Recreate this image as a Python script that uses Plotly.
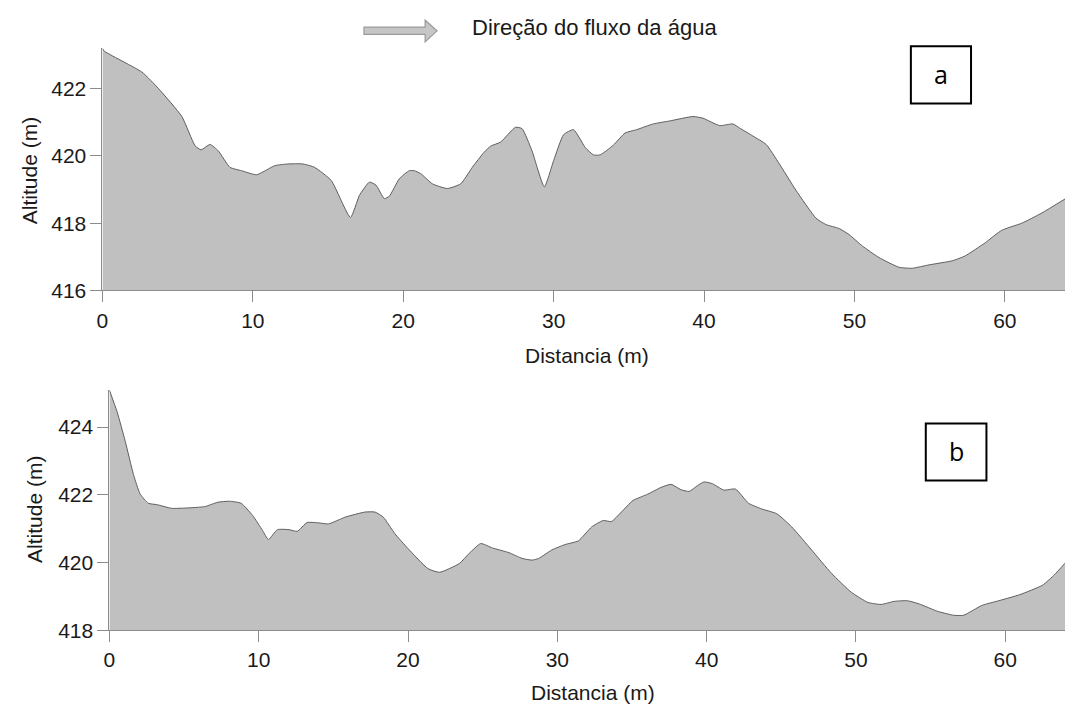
import plotly.graph_objects as go

# Perfil longitudinal (a)
dist_a = [0.0, 0.1, 2.63, 3.73, 5.28, 6.16, 6.56, 7.15, 7.7, 8.48, 9.25, 10.25, 11.46, 12.34,
          13.33, 14.1, 15.21, 16.49, 17.09, 17.75, 18.19, 18.74, 19.07, 19.74, 20.4, 20.73,
          21.17, 21.94, 22.93, 23.82, 24.59, 25.36, 25.81, 26.47, 27.46, 27.9, 28.56, 29.38,
          30.0, 30.66, 31.32, 32.1, 32.65, 33.09, 33.97, 34.75, 35.52, 36.62, 37.73, 39.27,
          39.93, 41.04, 41.92, 42.36, 43.25, 44.13, 45.01, 46.11, 47.44, 48.1, 48.99, 49.65,
          50.53, 51.63, 52.96, 53.84, 54.95, 56.49, 57.37, 58.7, 59.8, 61.13, 62.45, 64.0]
alt_a = [423.2, 423.12, 422.49, 422.0, 421.17, 420.3, 420.18, 420.34, 420.15, 419.66, 419.56,
         419.44, 419.71, 419.76, 419.76, 419.66, 419.27, 418.17, 418.83, 419.22, 419.13,
         418.73, 418.8, 419.32, 419.56, 419.56, 419.47, 419.17, 419.03, 419.17, 419.66,
         420.1, 420.29, 420.41, 420.85, 420.81, 420.15, 419.08, 419.86, 420.63, 420.78,
         420.25, 420.03, 420.03, 420.32, 420.68, 420.78, 420.95, 421.04, 421.17, 421.12,
         420.9, 420.95, 420.83, 420.59, 420.34, 419.76, 418.98, 418.15, 417.96, 417.84,
         417.66, 417.32, 416.98, 416.69, 416.66, 416.76, 416.88, 417.03, 417.42, 417.79,
         418.0, 418.3, 418.72]

# Perfil longitudinal (b)
dist_b = [0.0, 0.51, 1.06, 1.61, 2.06, 2.61, 3.17, 4.17, 5.16, 6.38, 7.26, 8.04, 8.82, 9.59,
          10.25, 10.65, 11.25, 12.03, 12.58, 13.24, 14.02, 14.68, 15.79, 17.12, 17.79, 18.34,
          19.12, 20.0, 21.33, 22.11, 23.44, 24.1, 24.87, 25.65, 26.76, 27.64, 28.31, 28.75,
          29.63, 30.52, 31.41, 32.3, 33.07, 33.62, 34.29, 35.06, 36.06, 36.95, 37.62, 38.28,
          38.83, 39.38, 39.82, 40.38, 41.15, 41.93, 42.81, 43.7, 44.7, 45.7, 47.03, 48.36,
          49.69, 50.8, 51.68, 52.56, 53.45, 54.33, 55.44, 56.55, 57.21, 58.43, 59.65, 60.98,
          62.5, 63.3, 64.0]
alt_b = [425.09, 424.46, 423.58, 422.6, 422.02, 421.75, 421.71, 421.6, 421.61, 421.65,
         421.78, 421.81, 421.75, 421.39, 420.95, 420.68, 420.97, 420.97, 420.92, 421.18,
         421.17, 421.14, 421.34, 421.49, 421.49, 421.34, 420.85, 420.41, 419.82, 419.71,
         419.97, 420.27, 420.56, 420.43, 420.29, 420.12, 420.07, 420.12, 420.37, 420.53,
         420.64, 421.05, 421.24, 421.21, 421.49, 421.83, 422.02, 422.22, 422.31, 422.15,
         422.1, 422.27, 422.38, 422.33, 422.14, 422.17, 421.75, 421.58, 421.44, 421.05,
         420.37, 419.68, 419.12, 418.82, 418.76, 418.85, 418.87, 418.76, 418.56, 418.44,
         418.44, 418.73, 418.88, 419.05, 419.33, 419.64, 419.98]

x_ticks = [0, 10, 20, 30, 40, 50, 60]
y_ticks_a = [416, 418, 420, 422]
y_ticks_b = [418, 420, 422, 424]

W, H = 1065, 715


def fx(px):
    return px / W


def fy(py):
    return 1 - py / H


FILL = "#c0c0c0"
EDGE = "#5e5e5e"
AXIS = "#8c8c8c"
TXT = "#1a1a1a"
FONT = "Liberation Sans, Arial, sans-serif"

fig = go.Figure()
for xs, ys, xa, ya in [(dist_a, alt_a, "x", "y"), (dist_b, alt_b, "x2", "y2")]:
    fig.add_trace(go.Scatter(x=xs, y=ys, mode="lines", fill="tozeroy",
                             fillcolor=FILL,
                             line=dict(color=EDGE, width=1, shape="spline", smoothing=0.5),
                             xaxis=xa, yaxis=ya, hoverinfo="skip", showlegend=False))

ax_common = dict(showgrid=False, zeroline=False, showline=True, linecolor=AXIS,
                 linewidth=1, ticks="outside", ticklen=11, tickcolor=AXIS, tickwidth=1,
                 tickfont=dict(family=FONT, size=21, color=TXT))

fig.update_layout(
    width=W, height=H,
    margin=dict(l=0, r=0, t=0, b=0),
    paper_bgcolor="white", plot_bgcolor="white",
    xaxis=dict(domain=[fx(97), 1], range=[0, 64], tickvals=x_ticks, anchor="y", **ax_common),
    yaxis=dict(domain=[fy(295), fy(49)], range=[416, 423.2], tickvals=y_ticks_a,
               anchor="x", **ax_common),
    xaxis2=dict(domain=[fx(104), 1], range=[0, 64], tickvals=x_ticks, anchor="y2", **ax_common),
    yaxis2=dict(domain=[fy(640), fy(396)], range=[418, 425.1], tickvals=y_ticks_b,
                anchor="x2", **ax_common),
)

ann_font = dict(family=FONT, size=21, color=TXT)
annotations = [
    dict(text="Altitude (m)", x=fx(23), y=fy(173), textangle=-90),
    dict(text="Altitude (m)", x=fx(28), y=fy(517), textangle=-90),
    dict(text="Distancia (m)", x=fx(584), y=fy(361)),
    dict(text="Distancia (m)", x=fx(590), y=fy(703)),
]
for a in annotations:
    fig.add_annotation(xref="paper", yref="paper", showarrow=False,
                       xanchor="center", yanchor="middle", font=ann_font, **a)

fig.add_annotation(text="Direção do fluxo da água", xref="paper", yref="paper",
                   x=fx(467), y=fy(28), xanchor="left", yanchor="middle",
                   showarrow=False, font=dict(family=FONT, size=22, color=TXT))

# Flow direction arrow
pts = [(360, 27.5), (421.5, 27.5), (421.5, 20.5), (433.5, 31.3), (421.5, 42.5),
       (421.5, 35), (360, 35)]
path = "M " + " L ".join(f"{fx(x):.5f},{fy(y):.5f}" for x, y in pts) + " Z"
fig.add_shape(type="path", xref="paper", yref="paper", path=path,
              fillcolor="#c6c6c6", line=dict(color="#9a9a9a", width=1.2))

# Panel label boxes
for lab, (x0, y0, x1, y1) in [("a", (910, 47, 970.5, 105)), ("b", (925, 430, 986, 488))]:
    fig.add_shape(type="rect", xref="paper", yref="paper",
                  x0=fx(x0), x1=fx(x1), y0=fy(y1), y1=fy(y0),
                  line=dict(color="black", width=2), fillcolor="white")
    fig.add_annotation(text=lab, xref="paper", yref="paper",
                       x=fx((x0 + x1) / 2), y=fy((y0 + y1) / 2 - 1),
                       xanchor="center", yanchor="middle", showarrow=False,
                       font=dict(family="Open Sans, sans-serif", size=25, color="black"))

fig.write_html("out.html")
